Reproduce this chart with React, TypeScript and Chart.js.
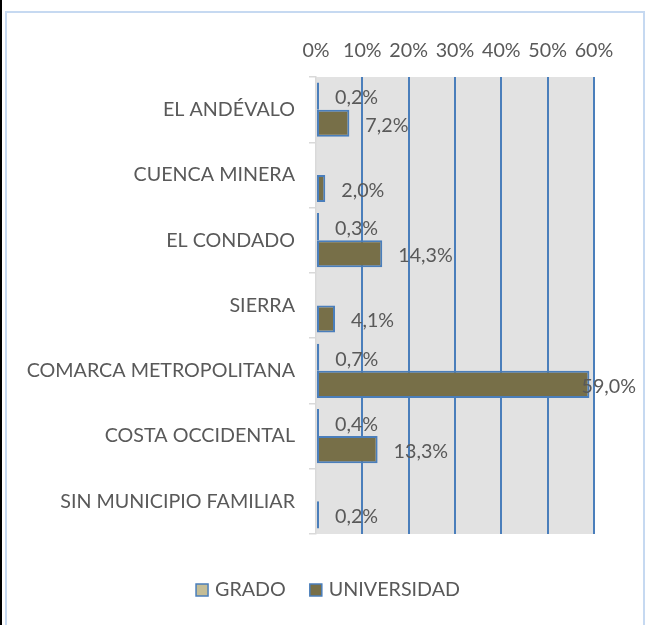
import React, { useEffect, useRef } from 'react';
import { Chart, registerables } from 'chart.js';
Chart.register(...registerables);

const categories = [
  'EL ANDÉVALO',
  'CUENCA MINERA',
  'EL CONDADO',
  'SIERRA',
  'COMARCA METROPOLITANA',
  'COSTA OCCIDENTAL',
  'SIN MUNICIPIO FAMILIAR',
];
const grado: (number | null)[] = [0.2, null, 0.3, null, 0.7, 0.4, null];
const universidad: (number | null)[] = [7.2, 2.0, 14.3, 4.1, 59.0, 13.3, 0.2];
const xTickValues = [0, 10, 20, 30, 40, 50, 60];
const seriesNames = ['GRADO', 'UNIVERSIDAD'];

const FONT = 'Lato';
const FS = 19.7;
const TEXT = '#595959';
const BLUE = '#4a7ebb';
const COLORS = ['#c4bd97', '#776f48'];

const fmt = (v: number) => v.toFixed(1).replace('.', ',') + '%';

const framePlugin = {
  id: 'frame',
  beforeDraw(chart: any) {
    const { ctx, chartArea } = chart;
    ctx.save();
    ctx.fillStyle = '#ffffff';
    ctx.fillRect(0, 0, chart.width, chart.height);
    ctx.fillStyle = '#000000';
    ctx.fillRect(0, 0, 2, chart.height);
    ctx.strokeStyle = '#c6d9f1';
    ctx.lineWidth = 2;
    ctx.strokeRect(6, 12, 638, chart.height + 10);
    ctx.fillStyle = '#e2e2e2';
    ctx.fillRect(chartArea.left, chartArea.top, chartArea.right - chartArea.left, chartArea.bottom - chartArea.top);
    ctx.restore();
  },
};

const labelsPlugin = {
  id: 'valueLabels',
  afterDatasetsDraw(chart: any) {
    const { ctx } = chart;
    ctx.save();
    ctx.font = `${FS}px ${FONT}`;
    ctx.fillStyle = TEXT;
    ctx.textBaseline = 'middle';
    ctx.textAlign = 'left';
    chart.data.datasets.forEach((ds: any, di: number) => {
      const meta = chart.getDatasetMeta(di);
      meta.data.forEach((el: any, i: number) => {
        const v = ds.data[i];
        if (v === null || v === undefined) return;
        const t = fmt(v);
        const w = ctx.measureText(t).width;
        let x = el.x + 16;
        if (x + w > 636) x = 636 - w;
        ctx.fillText(t, x, el.y + 2);
      });
    });
    ctx.restore();
  },
};

const legendPlugin = {
  id: 'customLegend',
  afterDraw(chart: any) {
    const { ctx } = chart;
    ctx.save();
    ctx.font = `${FS}px ${FONT}`;
    ctx.textBaseline = 'middle';
    ctx.textAlign = 'left';
    const box = 12;
    const gap = 7;
    const itemGap = 24;
    const widths = seriesNames.map((n) => box + gap + ctx.measureText(n).width);
    const total = widths.reduce((a, b) => a + b, 0) + itemGap * (seriesNames.length - 1);
    let x = 328 - total / 2;
    const y = 590;
    seriesNames.forEach((n, i) => {
      ctx.fillStyle = COLORS[i];
      ctx.fillRect(x, y - box / 2, box, box);
      ctx.strokeStyle = BLUE;
      ctx.lineWidth = 1.5;
      ctx.strokeRect(x, y - box / 2, box, box);
      ctx.fillStyle = TEXT;
      ctx.fillText(n, x + box + gap, y);
      x += widths[i] + itemGap;
    });
    ctx.restore();
  },
};

export default function App() {
  const ref = useRef<HTMLCanvasElement | null>(null);
  useEffect(() => {
    document.body.style.margin = '0';
    const canvas = ref.current!;
    const chart = new Chart(canvas, {
      type: 'bar',
      data: {
        labels: categories,
        datasets: [
          {
            label: seriesNames[0],
            data: grado,
            backgroundColor: COLORS[0],
            borderColor: BLUE,
            borderWidth: 2,
            borderSkipped: false,
            minBarLength: 3,
            categoryPercentage: 0.83,
            barPercentage: 1,
          },
          {
            label: seriesNames[1],
            data: universidad,
            backgroundColor: COLORS[1],
            borderColor: BLUE,
            borderWidth: 2,
            borderSkipped: false,
            minBarLength: 3,
            categoryPercentage: 0.83,
            barPercentage: 1,
          },
        ],
      },
      options: {
        indexAxis: 'y',
        responsive: false,
        animation: false,
        devicePixelRatio: 1,
        layout: { padding: { left: 0, right: 54, top: 0, bottom: 91 } },
        plugins: {
          legend: { display: false },
          tooltip: { enabled: false },
        },
        scales: {
          x: {
            position: 'top',
            min: 0,
            max: 60,
            afterBuildTicks: (scale: any) => {
              scale.ticks = xTickValues.map((v) => ({ value: v }));
            },
            afterFit: (scale: any) => {
              scale.height = 77;
            },
            ticks: {
              callback: (v: any) => v + '%',
              color: TEXT,
              font: { family: FONT, size: FS },
              padding: 15,
              maxRotation: 0,
            },
            grid: {
              drawTicks: false,
              lineWidth: 2,
              color: (c: any) => (c.tick && c.tick.value === 0 ? 'rgba(0,0,0,0)' : BLUE),
            },
            border: { display: false },
          },
          y: {
            afterFit: (scale: any) => {
              scale.width = 316;
            },
            ticks: {
              color: TEXT,
              font: { family: FONT, size: FS },
              padding: 14,
            },
            grid: {
              drawOnChartArea: false,
              drawTicks: true,
              tickLength: 7,
              color: '#d9d9d9',
              lineWidth: 1.5,
            },
            border: { display: true, color: '#d9d9d9', width: 1.5 },
          },
        },
      },
      plugins: [framePlugin, labelsPlugin, legendPlugin],
    });
    return () => chart.destroy();
  }, []);
  return (
    <div style={{ width: 648, height: 625 }}>
      <canvas ref={ref} width={648} height={625} style={{ display: 'block', width: 648, height: 625 }} />
    </div>
  );
}
